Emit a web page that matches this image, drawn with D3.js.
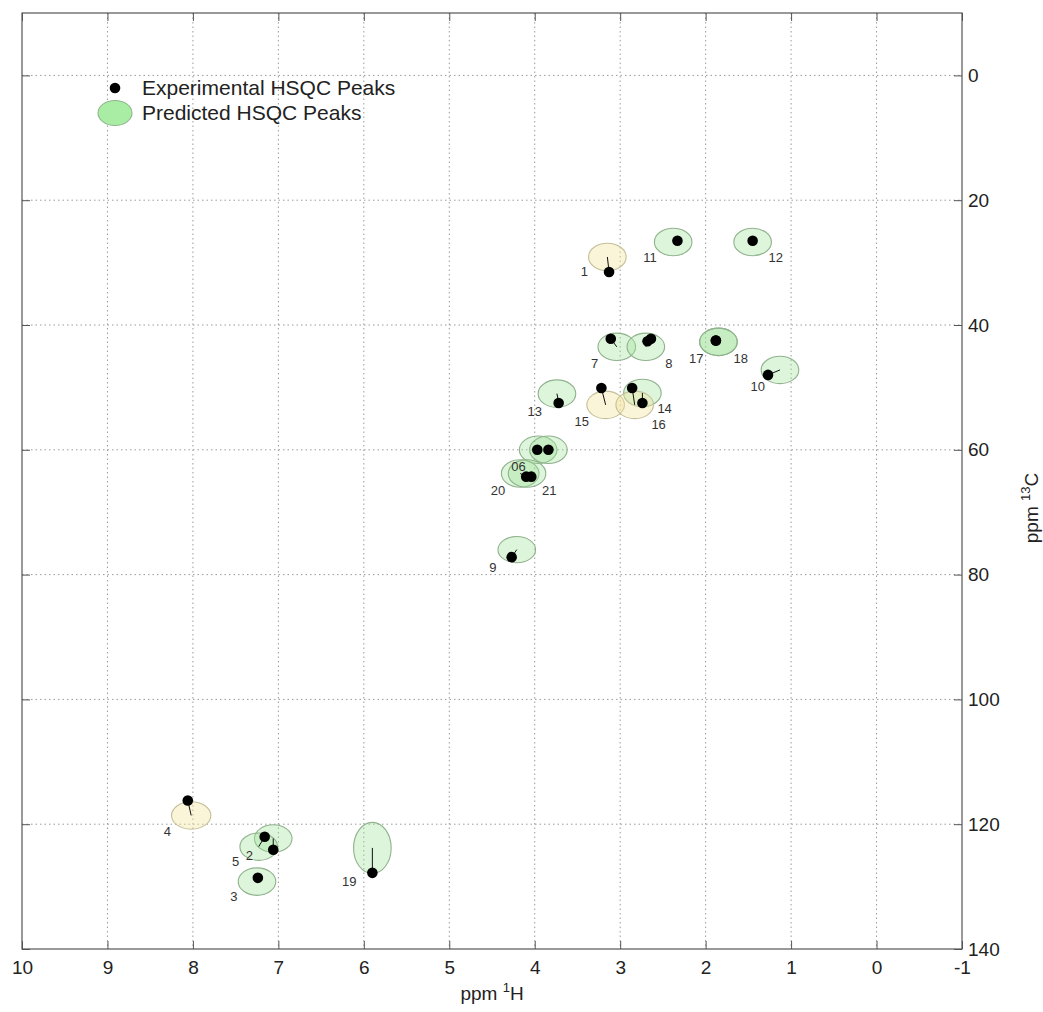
<!DOCTYPE html>
<html>
<head>
<meta charset="utf-8">
<script src="https://cdn.jsdelivr.net/npm/d3@7"></script>
<style>
  html, body { margin: 0; padding: 0; background: #fff; }
  svg { display: block; font-family: "Liberation Sans", Arial, Helvetica, sans-serif; }
</style>
</head>
<body>
<svg id="chart" width="1043" height="1012"></svg>
<script>
// ---- data (ppm) ----
// experimental peak positions
const expH  = [3.13, 7.06, 7.24, 8.06, 7.16, 3.97, 3.84, 3.11, 2.64, 2.68, 4.27, 1.27, 2.33, 1.45, 3.72, 2.74, 3.22, 2.86, 1.88, 1.88, 5.90, 4.10, 4.04];
const expC  = [31.5, 124.1, 128.6, 116.2, 122.0, 60.0, 60.0, 42.2, 42.2, 42.6, 77.2, 48.0, 26.5, 26.5, 52.5, 52.5, 50.1, 50.1, 42.5, 42.5, 127.8, 64.3, 64.3];
// predicted peak positions (ellipse centres); null = no separate prediction drawn
const predH = [3.15, 7.06, 7.25, 8.02, 7.23, 3.96, 3.84, 3.04, 2.70, null, 4.21, 1.13, 2.38, 1.45, 3.74, 2.74, 3.17, 2.83, 1.85, 1.85, 5.90, 4.17, 4.09];
const predC = [29.1, 122.3, 129.2, 118.6, 123.6, 60.0, 60.0, 43.5, 43.5, null, 76.0, 47.2, 26.7, 26.7, 51.0, 50.9, 52.8, 52.8, 42.7, 42.7, 123.8, 63.8, 63.8];
// predicted peak half-widths (ppm)
const predWH = [0.22, 0.22, 0.22, 0.23, 0.22, 0.22, 0.22, 0.22, 0.22, 0.22, 0.22, 0.22, 0.22, 0.22, 0.22, 0.22, 0.22, 0.22, 0.22, 0.22, 0.22, 0.22, 0.22];
const predWC = [2.2, 2.2, 2.2, 2.2, 2.2, 2.2, 2.2, 2.2, 2.2, 2.2, 2.1, 2.2, 2.2, 2.2, 2.2, 2.2, 2.2, 2.2, 2.2, 2.2, 4.1, 2.2, 2.2];
// prediction class: "g" = green, "y" = yellow
const predKind = ["y", "g", "g", "y", "g", "g", "g", "g", "g", "g", "g", "g", "g", "g", "g", "g", "y", "y", "g", "g", "g", "g", "g"];

// peak labels and their anchor positions (ppm)
const labelText = ["1", "2", "3", "4", "5", "06", "7", "8", "9", "10", "11", "12", "13", "14", "15", "16", "17", "18", "19", "20", "21"];
const labelH    = [3.42, 7.34, 7.52, 8.30, 7.50, 4.19, 3.30, 2.43, 4.49, 1.39, 2.65, 1.18, 4.00, 2.48, 3.45, 2.55, 2.11, 1.59, 6.17, 4.43, 3.83];
const labelC    = [31.5, 125.0, 131.6, 121.2, 126.0, 62.7, 46.1, 46.2, 78.9, 49.9, 29.2, 29.2, 53.8, 53.4, 55.5, 55.9, 45.4, 45.4, 129.2, 66.6, 66.6];

// axis ticks
const xTicks = [10, 9, 8, 7, 6, 5, 4, 3, 2, 1, 0, -1];
const yTicks = [0, 20, 40, 60, 80, 100, 120, 140];
const xGrid  = [9, 8, 7, 6, 5, 4, 3, 2, 1, 0];
const yGrid  = [0, 20, 40, 60, 80, 100, 120];

const legendLabels = ["Experimental HSQC Peaks", "Predicted HSQC Peaks"];
const xTitle = "ppm ";
const yTitle = "ppm ";

// ---- drawing ----
const svg = d3.select("#chart");
const L = 22, R = 962, T = 13, B = 949;
const x = d3.scaleLinear().domain([10, -1]).range([L, R]);
const y = d3.scaleLinear().domain([-10, 140]).range([T, B]);

const fills = { g: "#9fe397", y: "#f2e49e" };
const strokes = { g: "#90b28d", y: "#c4bf98" };

// grid
const grid = svg.append("g").attr("stroke", "#9a9a9a").attr("stroke-width", 1).attr("stroke-dasharray", "1.5,3");
grid.selectAll("line.gx").data(xGrid).join("line")
  .attr("x1", d => x(d)).attr("x2", d => x(d)).attr("y1", T).attr("y2", B);
grid.selectAll("line.gy").data(yGrid).join("line")
  .attr("x1", L).attr("x2", R).attr("y1", d => y(d)).attr("y2", d => y(d));

// predicted ellipses
const peaks = expH.map((h, i) => ({ eh: h, ec: expC[i], ph: predH[i], pc: predC[i], wh: predWH[i], wc: predWC[i], k: predKind[i] }));
const predicted = peaks.filter(d => d.ph !== null);
svg.append("g").selectAll("ellipse").data(predicted).join("ellipse")
  .attr("cx", d => x(d.ph)).attr("cy", d => y(d.pc))
  .attr("rx", d => Math.abs(x(d.ph + d.wh) - x(d.ph)))
  .attr("ry", d => Math.abs(y(d.pc + d.wc) - y(d.pc)))
  .attr("fill", d => fills[d.k]).attr("fill-opacity", d => d.k === "g" ? 0.35 : 0.4)
  .attr("stroke", d => strokes[d.k]).attr("stroke-width", 1.1);

// connection lines
svg.append("g").selectAll("line").data(predicted).join("line")
  .attr("x1", d => x(d.eh)).attr("y1", d => y(d.ec))
  .attr("x2", d => x(d.ph)).attr("y2", d => y(d.pc))
  .attr("stroke", "#111").attr("stroke-width", 1);

// experimental dots
svg.append("g").selectAll("circle").data(peaks).join("circle")
  .attr("cx", d => x(d.eh)).attr("cy", d => y(d.ec)).attr("r", 5.3)
  .attr("fill", "#000");

// labels
svg.append("g").selectAll("text").data(labelText).join("text")
  .attr("x", (d, i) => x(labelH[i])).attr("y", (d, i) => y(labelC[i]))
  .attr("text-anchor", "middle").attr("dominant-baseline", "central")
  .attr("font-size", 13).attr("fill", "#333").text(d => d);

// frame
svg.append("rect").attr("x", L).attr("y", T).attr("width", R - L).attr("height", B - T)
  .attr("fill", "none").attr("stroke", "#555").attr("stroke-width", 1.2);

// axes
const styleAxis = g => {
  g.select(".domain").remove();
  g.selectAll(".tick line").attr("stroke", "#555").attr("stroke-width", 1);
  g.selectAll(".tick text").attr("font-size", 19).attr("fill", "#222").attr("font-family", "Liberation Sans, Arial, sans-serif");
};
svg.append("g").attr("transform", `translate(0,${B})`)
  .call(d3.axisBottom(x).tickValues(xTicks).tickSize(-8).tickPadding(12).tickFormat(d => String(d)))
  .call(styleAxis);
svg.append("g").attr("transform", `translate(0,${T})`)
  .call(d3.axisTop(x).tickValues(xTicks).tickSize(-8).tickFormat(""))
  .call(styleAxis);
svg.append("g").attr("transform", `translate(${R},0)`)
  .call(d3.axisRight(y).tickValues(yTicks).tickSize(-8).tickPadding(6).tickFormat(d => String(d)))
  .call(styleAxis);
svg.append("g").attr("transform", `translate(${L},0)`)
  .call(d3.axisLeft(y).tickValues(yTicks).tickSize(-8).tickFormat(""))
  .call(styleAxis);

// axis titles
const xt = svg.append("text").attr("x", (L + R) / 2).attr("y", 1000)
  .attr("text-anchor", "middle").attr("font-size", 19).attr("fill", "#222");
xt.append("tspan").text(xTitle);
xt.append("tspan").attr("font-size", 13).attr("dy", -8).text("1");
xt.append("tspan").attr("dy", 8).text("H");

const yt = svg.append("text").attr("transform", `translate(1038,508) rotate(-90)`)
  .attr("text-anchor", "middle").attr("font-size", 19).attr("fill", "#222");
yt.append("tspan").text(yTitle);
yt.append("tspan").attr("font-size", 13).attr("dy", -8).text("13");
yt.append("tspan").attr("dy", 8).text("C");

// legend
const lg = svg.append("g");
lg.append("circle").attr("cx", 115).attr("cy", 88).attr("r", 5.3).attr("fill", "#000");
lg.append("ellipse").attr("cx", 115).attr("cy", 113).attr("rx", 17).attr("ry", 12.5)
  .attr("fill", "#a9eca4").attr("stroke", "#8fb88c").attr("stroke-width", 1.1);
lg.selectAll("text").data(legendLabels).join("text")
  .attr("x", 142).attr("y", (d, i) => 95 + i * 25)
  .attr("font-size", 21).attr("fill", "#222").text(d => d);
</script>
</body>
</html>
